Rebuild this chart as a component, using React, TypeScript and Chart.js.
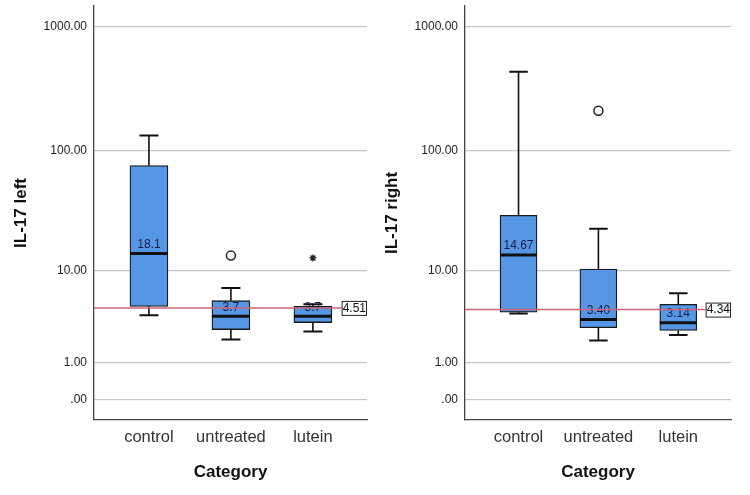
import React, { useEffect, useRef } from "react";
import { Chart, registerables } from "chart.js";

Chart.register(...registerables);

// ---------- data ----------
const categories = ["control", "untreated", "lutein"];
const tickValues = [0, 1, 10, 100, 1000];
const tickLabels = [".00", "1.00", "10.00", "100.00", "1000.00"];

// left panel: IL-17 left
const leftMin = [3.8, 2.07, 2.56];
const leftQ1 = [4.67, 2.69, 3.2];
const leftMedian = [14.1, 3.72, 3.72];
const leftQ3 = [75.7, 5.3, 4.67];
const leftMax = [133, 6.95, 4.89];
const leftLabels = ["18.1", "3.7", "3.7"];
const leftOutliers = [{ cat: 2, value: 13.5 }];
const leftExtremes = [{ cat: 3, value: 12.9 }];
const leftRef = 4.51;

// right panel: IL-17 right
const rightMin = [3.97, 2.02, 2.33];
const rightQ1 = [4.09, 2.82, 2.63];
const rightMedian = [13.7, 3.45, 3.18];
const rightQ3 = [29.6, 10.3, 4.89];
const rightMax = [435, 22.8, 6.22];
const rightLabels = ["14.67", "3.40", "3.14"];
const rightOutliers = [{ cat: 2, value: 210.7 }];
const rightExtremes: { cat: number; value: number }[] = [];
const rightRef = 4.34;

// transform used by the axis: log10(v + 1)
const tf = (v: number) => Math.log10(v + 1);

type Panel = {
  title: string;
  min: number[];
  q1: number[];
  median: number[];
  q3: number[];
  max: number[];
  labels: string[];
  outliers: { cat: number; value: number }[];
  extremes: { cat: number; value: number }[];
  ref: number;
  yAxisWidth: number;
  titlePad: number;
  rightPad: number;
  barThickness: number;
};

const FONT = "'Liberation Sans', Arial, sans-serif";

function makeConfig(p: Panel): any {
  const boxPlugin = {
    id: "boxExtras",
    afterDatasetsDraw(chart: any) {
      const ctx = chart.ctx;
      const xs = chart.scales.x;
      const ys = chart.scales.y;
      const area = chart.chartArea;
      const half = p.barThickness / 2;
      const capHalf = p.barThickness / 4;
      ctx.save();
      for (let i = 0; i < categories.length; i++) {
        const cx = xs.getPixelForValue(i + 1);
        const yMin = ys.getPixelForValue(tf(p.min[i]));
        const yQ1 = ys.getPixelForValue(tf(p.q1[i]));
        const yQ3 = ys.getPixelForValue(tf(p.q3[i]));
        const yMax = ys.getPixelForValue(tf(p.max[i]));
        const yMed = ys.getPixelForValue(tf(p.median[i]));
        ctx.strokeStyle = "#111";
        ctx.lineWidth = 1.6;
        ctx.beginPath();
        ctx.moveTo(cx, yQ3);
        ctx.lineTo(cx, yMax);
        ctx.moveTo(cx, yQ1);
        ctx.lineTo(cx, yMin);
        ctx.stroke();
        ctx.lineWidth = 2;
        ctx.beginPath();
        ctx.moveTo(cx - capHalf, yMax);
        ctx.lineTo(cx + capHalf, yMax);
        ctx.moveTo(cx - capHalf, yMin);
        ctx.lineTo(cx + capHalf, yMin);
        ctx.stroke();
        // median
        ctx.lineWidth = 3;
        ctx.beginPath();
        ctx.moveTo(cx - half, yMed);
        ctx.lineTo(cx + half, yMed);
        ctx.stroke();
        // label
        ctx.fillStyle = "#1b1b45";
        ctx.font = `12px ${FONT}`;
        ctx.textAlign = "center";
        ctx.textBaseline = "middle";
        ctx.fillText(p.labels[i], cx, yMed - 9);
      }
      // reference line + label box
      const yRef = ys.getPixelForValue(tf(p.ref));
      ctx.font = `12px ${FONT}`;
      const txt = p.ref.toFixed(2);
      const tw = ctx.measureText(txt).width;
      const boxW = tw + 2;
      const boxR = area.right;
      const boxL = boxR - boxW;
      ctx.strokeStyle = "#cf6478";
      ctx.lineWidth = 1.5;
      ctx.beginPath();
      ctx.moveTo(area.left, yRef);
      ctx.lineTo(boxL, yRef);
      ctx.stroke();
      ctx.fillStyle = "#fff";
      ctx.fillRect(boxL, yRef - 7, boxW, 14);
      ctx.strokeStyle = "#222";
      ctx.lineWidth = 1;
      ctx.strokeRect(boxL + 0.5, yRef - 7 + 0.5, boxW - 1, 14);
      ctx.fillStyle = "#111";
      ctx.textAlign = "center";
      ctx.textBaseline = "middle";
      ctx.fillText(txt, boxL + boxW / 2, yRef + 0.5);
      ctx.restore();
    },
  };

  return {
    type: "bar",
    data: {
      datasets: [
        {
          type: "bar",
          data: categories.map((_, i) => ({ x: i + 1, y: [tf(p.q1[i]), tf(p.q3[i])] })),
          backgroundColor: "#5597e4",
          borderColor: "#1a1a1a",
          borderWidth: 1.3,
          borderSkipped: false,
          barThickness: p.barThickness,
          order: 2,
        },
        {
          type: "scatter",
          data: p.outliers.map((o) => ({ x: o.cat, y: tf(o.value) })),
          pointStyle: "circle",
          pointRadius: 4.5,
          backgroundColor: "#fff",
          borderColor: "#222",
          borderWidth: 1.5,
          order: 1,
        },
        {
          type: "scatter",
          data: p.extremes.map((o) => ({ x: o.cat, y: tf(o.value) })),
          pointStyle: "star",
          pointRadius: 3.5,
          backgroundColor: "#222",
          borderColor: "#222",
          borderWidth: 1.4,
          order: 1,
        },
      ],
    },
    options: {
      animation: false,
      responsive: false,
      maintainAspectRatio: false,
      layout: { padding: { top: 5, bottom: 0, left: 0, right: p.rightPad } },
      plugins: { legend: { display: false }, tooltip: { enabled: false } },
      scales: {
        x: {
          type: "linear",
          min: 0.33,
          max: 3.66,
          offset: false,
          grid: { display: false, drawTicks: false },
          border: { display: true, color: "#444", width: 1.3 },
          afterBuildTicks: (s: any) => {
            s.ticks = categories.map((_, i) => ({ value: i + 1 }));
          },
          afterFit: (s: any) => {
            s.height = 75;
            s.paddingLeft = 0;
            s.paddingRight = 0;
          },
          ticks: {
            padding: 8,
            color: "#333",
            font: { family: FONT, size: 16.5 },
            maxRotation: 0,
            autoSkip: false,
            callback: (v: number) => categories[Math.round(v) - 1] ?? "",
          },
          title: {
            display: true,
            text: "Category",
            color: "#111",
            font: { family: FONT, size: 17, weight: "bold" },
            padding: { top: 0, bottom: 12 },
          },
        },
        y: {
          type: "linear",
          min: -0.16,
          max: 3.168,
          grid: { color: "#c6c6c6", lineWidth: 1.2, drawTicks: false },
          border: { display: true, color: "#444", width: 1.3 },
          afterBuildTicks: (s: any) => {
            s.ticks = tickValues.map((v) => ({ value: tf(v) }));
          },
          afterFit: (s: any) => {
            s.width = p.yAxisWidth;
            s.paddingTop = 0;
            s.paddingBottom = 0;
          },
          ticks: {
            padding: 7,
            color: "#222",
            font: { family: FONT, size: 12 },
            callback: (_v: number, idx: number) => tickLabels[idx],
          },
          title: {
            display: true,
            text: p.title,
            color: "#111",
            font: { family: FONT, size: 17, weight: "bold" },
            padding: { top: p.titlePad, bottom: 0 },
          },
        },
      },
    },
    plugins: [boxPlugin],
  };
}

const leftPanel: Panel = {
  title: "IL-17 left",
  min: leftMin,
  q1: leftQ1,
  median: leftMedian,
  q3: leftQ3,
  max: leftMax,
  labels: leftLabels,
  outliers: leftOutliers,
  extremes: leftExtremes,
  ref: leftRef,
  yAxisWidth: 94,
  titlePad: 11,
  rightPad: 8,
  barThickness: 38,
};

const rightPanel: Panel = {
  title: "IL-17 right",
  min: rightMin,
  q1: rightQ1,
  median: rightMedian,
  q3: rightQ3,
  max: rightMax,
  labels: rightLabels,
  outliers: rightOutliers,
  extremes: rightExtremes,
  ref: rightRef,
  yAxisWidth: 90,
  titlePad: 7,
  rightPad: 19,
  barThickness: 37,
};

function Box({ panel, left }: { panel: Panel; left: number }) {
  const ref = useRef<HTMLCanvasElement | null>(null);
  useEffect(() => {
    if (!ref.current) return;
    const chart = new Chart(ref.current, makeConfig(panel));
    return () => chart.destroy();
  }, [panel]);
  return (
    <canvas
      ref={ref}
      width={375}
      height={495}
      style={{ position: "absolute", left, top: 0, width: 375, height: 495 }}
    />
  );
}

export default function App() {
  return (
    <div
      style={{
        position: "fixed",
        left: 0,
        top: 0,
        width: 750,
        height: 495,
        background: "#fff",
        overflow: "hidden",
      }}
    >
      <Box panel={leftPanel} left={0} />
      <Box panel={rightPanel} left={375} />
    </div>
  );
}
